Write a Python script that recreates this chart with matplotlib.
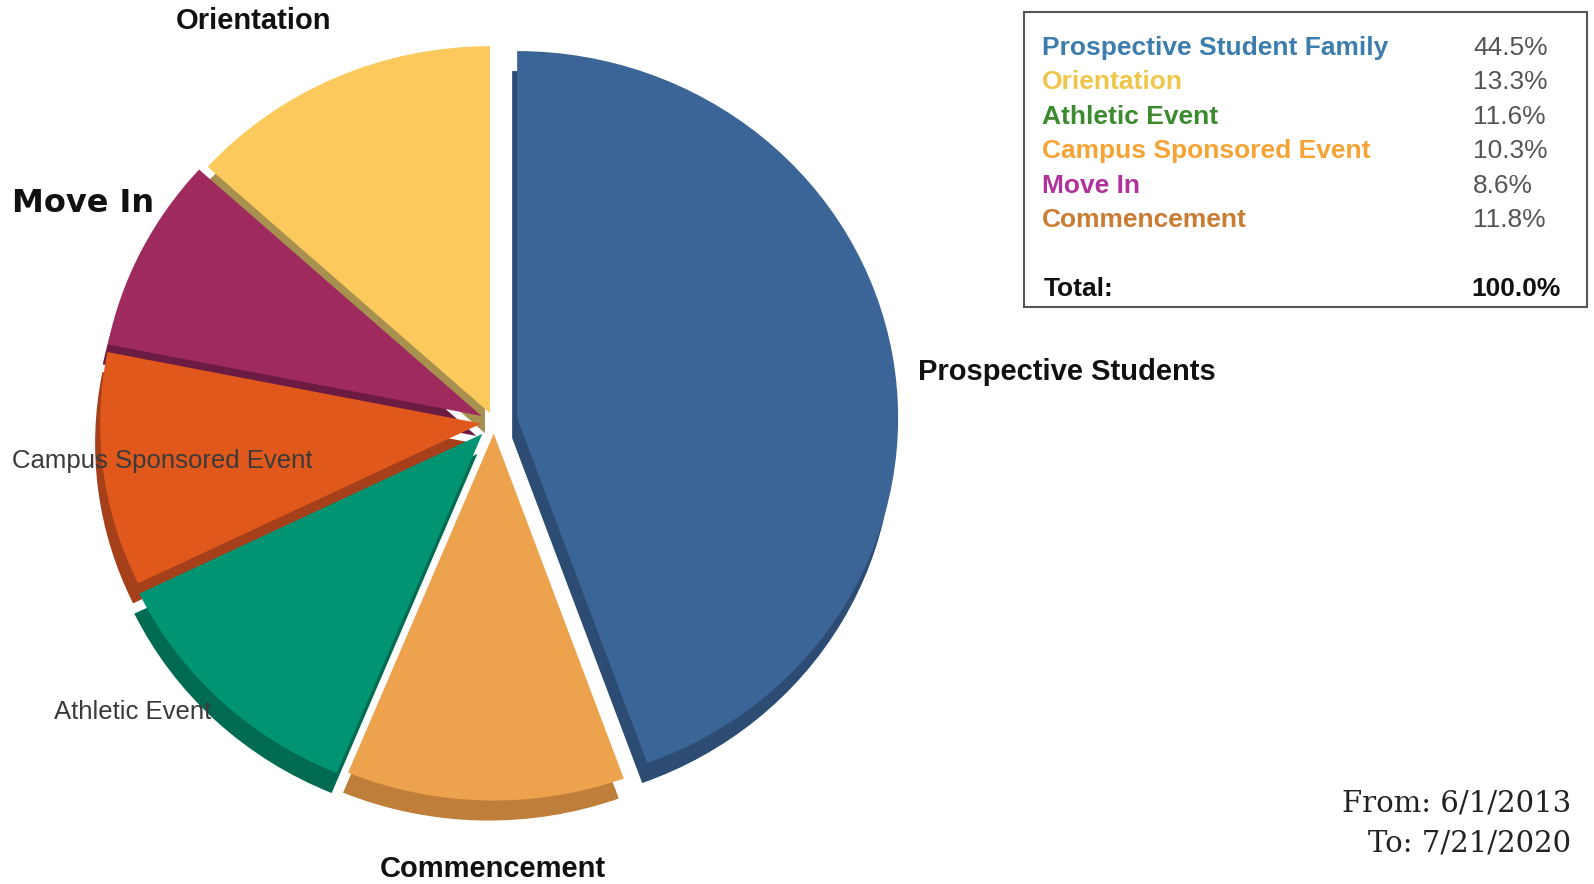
import matplotlib.pyplot as plt
import numpy as np

# slice data, clockwise from 12 o'clock
slices = ["Prospective Students", "Commencement", "Athletic Event",
          "Campus Sponsored Event", "Move In", "Orientation"]
shares = [44.5, 11.8, 11.6, 10.3, 8.6, 13.3]

# summary box
box_names = ["Prospective Student Family", "Orientation", "Athletic Event",
             "Campus Sponsored Event", "Move In", "Commencement"]
box_pct = [44.5, 13.3, 11.6, 10.3, 8.6, 11.8]
total = 100.0

W, H = 1594, 884
face = ["#3A6596", "#EDA24E", "#009473", "#E0581C", "#9E2A5E", "#FCC95C"]
side = ["#2C4C74", "#BF7E3A", "#006B51", "#A5401A", "#6C1C42", "#A8904E"]
box_cols = ["#3C7DAE", "#F0C64A", "#3C8A2E", "#F5A334", "#B0329A", "#C97C32"]

fig = plt.figure(figsize=(W / 100, H / 100), dpi=100)

# pie axes: slightly squashed vertically for the tilted look
rx, ry = 381, 367
k = ry / rx
cx, cy = 494, 422          # pixel position of the pie centre (from top-left)
expl = [23.5, 12, 17, 13, 14, 10]

ax = fig.add_axes([0, 0, 1, 1])
ax.pie(shares, colors=side, startangle=90, counterclock=False, radius=rx,
       center=(cx - 5, (H - cy - 20) / k), explode=expl, wedgeprops=dict(linewidth=0))
ax.pie(shares, colors=face, startangle=90, counterclock=False, radius=rx,
       center=(cx, (H - cy) / k), explode=expl, wedgeprops=dict(linewidth=0))
ax.set_xlim(0, W)
ax.set_ylim(0, H / k)
ax.set_aspect("auto")
ax.axis("off")

# text layer in pixel coordinates
tx = fig.add_axes([0, 0, 1, 1])
tx.set_xlim(0, W)
tx.set_ylim(H, 0)
tx.axis("off")

fn = "Liberation Sans"
tx.text(254, 21, "Orientation", fontsize=21, fontweight="bold", family=fn,
        ha="center", va="center", color="#111")
tx.text(12, 204, "Move In", fontsize=23, fontweight="bold", family="DejaVu Sans",
        ha="left", va="center", color="#111")
tx.text(12, 461, "Campus Sponsored Event", fontsize=18.5, family=fn,
        ha="left", va="center", color="#3a3a3a")
tx.text(54, 712, "Athletic Event", fontsize=18.5, family=fn,
        ha="left", va="center", color="#3a3a3a")
tx.text(918, 372, "Prospective Students", fontsize=21, fontweight="bold", family=fn,
        ha="left", va="center", color="#111")
tx.text(493, 869, "Commencement", fontsize=21, fontweight="bold", family=fn,
        ha="center", va="center", color="#111")

# summary box
tx.add_patch(plt.Rectangle((1024, 12), 563, 295, fill=False,
                           edgecolor="#555", linewidth=1.5))
for i, (nm, p) in enumerate(zip(box_names, box_pct)):
    yy = 48 + i * 34.4
    tx.text(1042, yy, nm, fontsize=19, fontweight="bold", family=fn,
            color=box_cols[i], ha="left", va="center")
    tx.text(1473, yy, f"{p:.1f}%", fontsize=19, family=fn,
            color="#555", ha="left", va="center")
tx.text(1044, 289, "Total:", fontsize=19, fontweight="bold", family=fn,
        color="#111", ha="left", va="center")
tx.text(1561, 289, f"{total:.1f}%", fontsize=19, fontweight="bold", family=fn,
        color="#111", ha="right", va="center")

tx.text(1571, 803, "From: 6/1/2013", fontsize=21, family="DejaVu Serif",
        color="#222", ha="right", va="center")
tx.text(1571, 843, "To: 7/21/2020", fontsize=21, family="DejaVu Serif",
        color="#222", ha="right", va="center")

fig.savefig("out.png", dpi=100)
